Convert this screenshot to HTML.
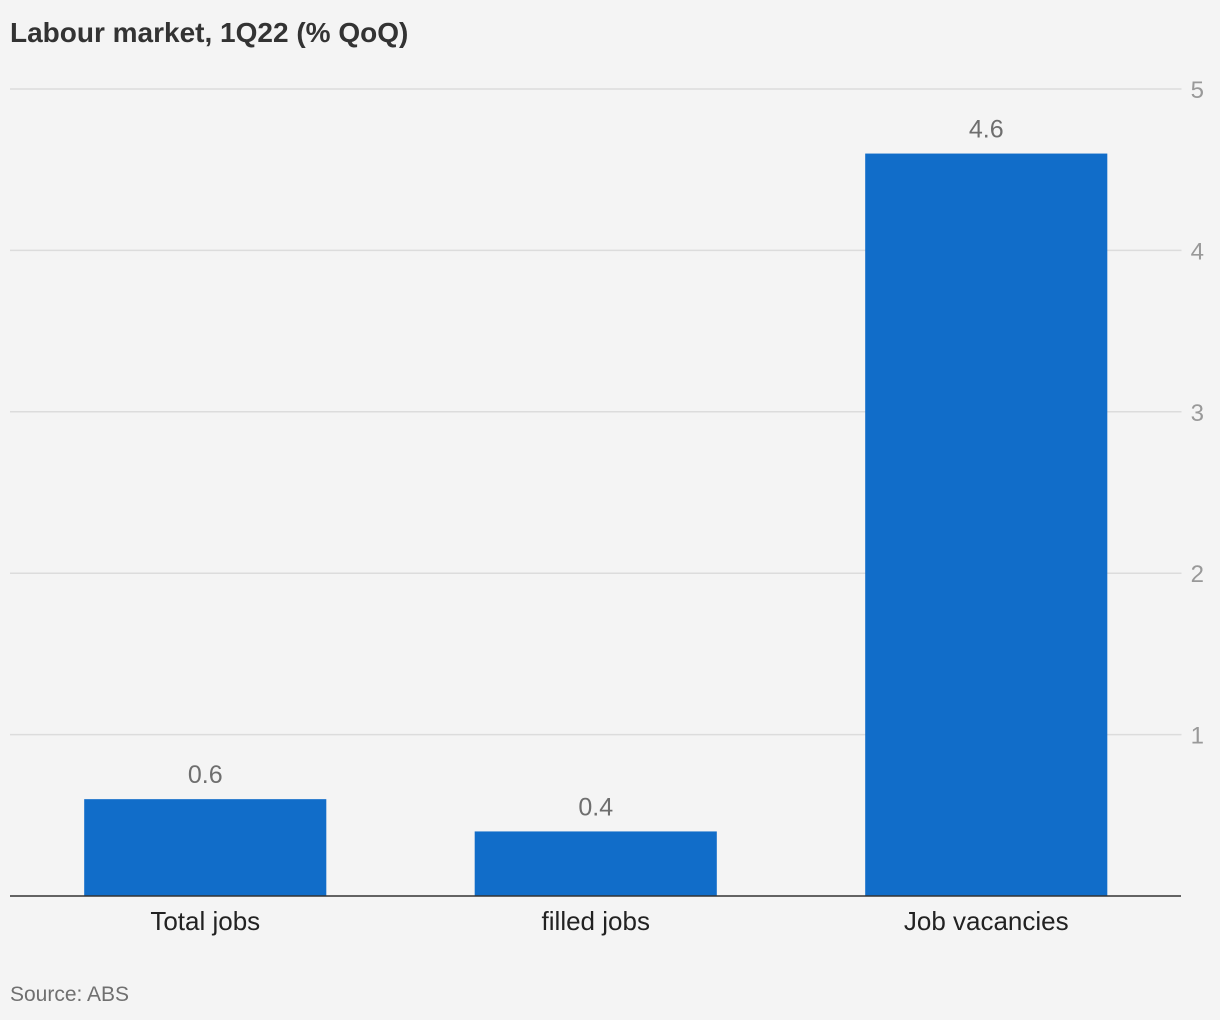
<!DOCTYPE html>
<html><head><meta charset="utf-8"><style>
html,body{margin:0;padding:0;background:#f4f4f4;}
body{width:1220px;height:1020px;overflow:hidden;font-family:"Liberation Sans",sans-serif;}
</style></head><body>
<svg id="chart" width="1220" height="1020" xmlns="http://www.w3.org/2000/svg" style="display:block">
<rect width="1220" height="1020" fill="#f4f4f4"/>
<text x="10" y="42" font-size="28" font-weight="bold" fill="#333">Labour market, 1Q22 (% QoQ)</text>
<g id="grid"></g>
<g id="bars"></g>
<line x1="10" x2="1181" y1="896" y2="896" stroke="#333" stroke-width="1.5"/>
<text x="10" y="1001" font-size="21" fill="#707070">Source: ABS</text>
</svg>
<script>
const categories = ["Total jobs", "filled jobs", "Job vacancies"];
const values = [0.6, 0.4, 4.6];
const valueLabels = ["0.6", "0.4", "4.6"];
const yTicks = [1, 2, 3, 4, 5];

const NS = "http://www.w3.org/2000/svg";
const plotLeft = 10, plotRight = 1181.5, y0 = 896, yTop = 89, yMax = 5;
const y = v => y0 - (v / yMax) * (y0 - yTop);
const band = (plotRight - plotLeft) / categories.length;
const barW = band * 0.62;
const xc = i => plotLeft + band * (i + 0.5);

const grid = document.getElementById("grid");
yTicks.forEach(t => {
  const l = document.createElementNS(NS, "line");
  l.setAttribute("x1", plotLeft); l.setAttribute("x2", plotRight);
  l.setAttribute("y1", y(t)); l.setAttribute("y2", y(t));
  l.setAttribute("stroke", "#dcdcdc"); l.setAttribute("stroke-width", "1.5");
  
  
  grid.appendChild(l);
  const tx = document.createElementNS(NS, "text");
  tx.setAttribute("x", 1204); tx.setAttribute("y", y(t) + 9);
  tx.setAttribute("text-anchor", "end"); tx.setAttribute("font-size", "24"); tx.setAttribute("fill", "#999");
  tx.textContent = t;
  
  
  grid.appendChild(tx);
});

const bars = document.getElementById("bars");
categories.forEach((c, i) => {
  const r = document.createElementNS(NS, "rect");
  r.setAttribute("x", xc(i) - barW / 2); r.setAttribute("width", barW);
  r.setAttribute("y", y(values[i])); r.setAttribute("height", y0 - y(values[i]));
  r.setAttribute("fill", "#116dc9");
  
  
  bars.appendChild(r);
  const v = document.createElementNS(NS, "text");
  v.setAttribute("x", xc(i)); v.setAttribute("y", y(values[i]) - 16);
  v.setAttribute("text-anchor", "middle"); v.setAttribute("font-size", "25"); v.setAttribute("fill", "#6e6e6e");
  v.textContent = valueLabels[i];
  
  
  bars.appendChild(v);
  const cl = document.createElementNS(NS, "text");
  cl.setAttribute("x", xc(i)); cl.setAttribute("y", 930);
  cl.setAttribute("text-anchor", "middle"); cl.setAttribute("font-size", "26"); cl.setAttribute("fill", "#222");
  cl.textContent = c;
  
  
  bars.appendChild(cl);
});
</script>
</body></html>
